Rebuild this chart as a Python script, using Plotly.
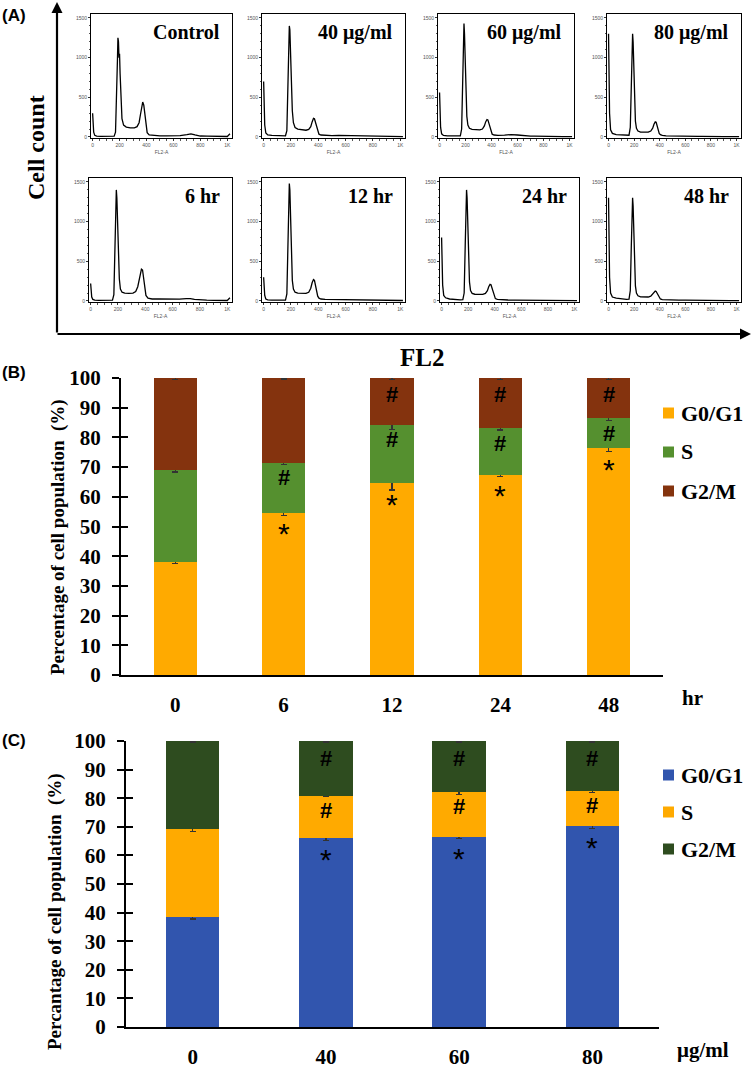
import plotly.graph_objects as go

W, H = 756, 1082

def px(x):
    return x / W

def py(y):
    return 1 - y / H

# ---------------- Panel A data (flow cytometry histograms) ----------------
fl2_x = [0, 8, 16, 30, 60, 100, 140, 160, 170, 178, 184, 188, 192, 196, 200, 204, 210, 218,
         230, 250, 280, 310, 330, 345, 355, 365, 372, 380, 388, 396, 405, 420, 450, 500,
         550, 600, 650, 700, 730, 760, 800, 850, 900, 950, 1000, 1020]

count_control = [300, 60, 20, 10, 8, 8, 8, 10, 60, 450, 950, 1250, 1200, 1000, 1050, 800, 420, 230,
                 150, 125, 115, 115, 130, 180, 280, 400, 440, 400, 260, 120, 55, 25, 18, 15,
                 15, 15, 18, 30, 40, 25, 12, 10, 8, 6, 6, 40]
count_40 = [700, 150, 50, 25, 20, 18, 15, 15, 80, 600, 1200, 1400, 1350, 1100, 1000, 650, 330, 180,
            120, 100, 90, 85, 95, 130, 190, 235, 230, 180, 110, 60, 35, 25, 20, 18,
            20, 18, 15, 12, 12, 10, 10, 8, 8, 6, 5, 5]
count_60 = [560, 120, 40, 20, 15, 12, 12, 15, 100, 700, 1300, 1430, 1300, 1100, 800, 500, 260, 150,
            110, 95, 90, 90, 100, 140, 190, 220, 215, 170, 100, 55, 35, 25, 20, 22,
            30, 25, 15, 10, 10, 8, 8, 6, 5, 5, 5, 5]
count_80 = [1300, 300, 90, 45, 30, 25, 20, 22, 120, 650, 1150, 1300, 1200, 1000, 700, 420, 200, 110,
            75, 60, 58, 60, 75, 110, 160, 190, 185, 140, 80, 45, 30, 20, 15, 12,
            10, 10, 10, 8, 8, 6, 6, 5, 5, 5, 5, 5]
count_6h = [220, 50, 20, 10, 8, 8, 8, 10, 80, 650, 1200, 1400, 1300, 1100, 850, 550, 280, 150,
            110, 100, 95, 100, 120, 180, 280, 370, 400, 390, 290, 150, 70, 35, 25, 25,
            25, 20, 22, 30, 30, 20, 12, 10, 8, 6, 6, 40]
count_12h = [300, 70, 25, 15, 10, 10, 10, 12, 90, 750, 1350, 1480, 1400, 1150, 850, 500, 260, 150,
             110, 100, 95, 95, 110, 160, 230, 270, 260, 200, 120, 60, 35, 25, 20, 18,
             18, 18, 18, 18, 15, 12, 10, 8, 8, 6, 6, 6]
count_24h = [800, 200, 70, 40, 25, 18, 15, 18, 100, 700, 1250, 1400, 1300, 1100, 800, 480, 240, 130,
             95, 85, 80, 82, 95, 130, 180, 210, 205, 160, 95, 50, 30, 20, 15, 12,
             10, 10, 8, 8, 8, 6, 6, 5, 5, 5, 5, 5]
count_48h = [1300, 300, 100, 50, 35, 25, 20, 22, 130, 700, 1150, 1300, 1200, 1000, 700, 400, 190, 100,
             65, 52, 48, 50, 60, 85, 110, 125, 120, 95, 60, 35, 25, 18, 14, 12,
             10, 10, 8, 8, 8, 6, 6, 5, 5, 5, 5, 5]

hist_labels = ["Control", "40 μg/ml", "60 μg/ml", "80 μg/ml", "6 hr", "12 hr", "24 hr", "48 hr"]
hist_counts = [count_control, count_40, count_60, count_80, count_6h, count_12h, count_24h, count_48h]
hist_xticks = [0, 200, 400, 600, 800, 1000]
hist_xticktext = ["0", "200", "400", "600", "800", "1K"]
hist_yticks = [0, 500, 1000, 1500]

# ---------------- Panel B data (time course) ----------------
b_cats = ["0", "6", "12", "24", "48"]
b_g0 = [38.0, 54.6, 64.5, 67.5, 76.3]
b_g0_err = [0.5, 0.9, 2.2, 0.7, 1.0]
b_s = [31.0, 16.8, 19.7, 15.5, 10.1]
b_s_err = [0.6, 0.5, 1.5, 0.5, 0.6]
b_g2m = [31.0, 28.6, 15.8, 17.0, 13.6]
b_g2m_err = [0.5, 0.3, 0.5, 0.5, 0.5]
b_star = [False, True, True, True, True]
b_hash_s = [False, True, True, True, True]
b_hash_g2m = [False, False, True, True, True]

# ---------------- Panel C data (dose) ----------------
c_cats = ["0", "40", "60", "80"]
c_g0 = [38.3, 66.0, 66.5, 70.4]
c_g0_err = [0.5, 0.7, 0.6, 0.9]
c_s = [30.8, 14.8, 15.8, 12.2]
c_s_err = [0.7, 0.3, 1.0, 0.6]
c_g2m = [30.9, 19.2, 17.7, 17.4]
c_g2m_err = [0.3, 0.3, 0.3, 0.3]
c_star = [False, True, True, True]
c_hash_s = [False, True, True, True]
c_hash_g2m = [False, True, True, True]

y_ticks_pct = [0, 10, 20, 30, 40, 50, 60, 70, 80, 90, 100]

phase_names = ["G0/G1", "S", "G2/M"]
b_colors = ["#FFAA00", "#55902F", "#84330E"]
c_colors = ["#3155AE", "#FFAA00", "#2E4C1F"]

SERIF = "Liberation Serif"
SANS = "Liberation Sans"

fig = go.Figure()
layout = dict(
    width=W, height=H,
    margin=dict(l=0, r=0, t=0, b=0, autoexpand=False),
    paper_bgcolor="white", plot_bgcolor="white",
    showlegend=False,
    barmode="stack",
)

# histogram boxes (left, right, top, bottom) in pixels
hist_boxes = [(91, 232, 14, 138), (262, 405, 14, 138), (438, 574, 14, 138), (607, 741, 14, 138),
              (89, 232, 178, 302), (262, 405, 178, 302), (440, 579, 178, 302), (607, 741, 178, 302)]

annotations = []
shapes = []


def text_note(text, x, y, size, family=SERIF, xanchor="center", angle=0):
    annotations.append(dict(text=text, x=px(x), y=py(y), xref="paper", yref="paper",
                            xanchor=xanchor, yanchor="middle", textangle=angle, showarrow=False,
                            font=dict(family=family, size=size, color="black")))


tickfont_small = dict(family=SANS, size=5, color="#555")
for i, (counts, lab, box) in enumerate(zip(hist_counts, hist_labels, hist_boxes), start=1):
    l, r, t, b = box
    xs = "" if i == 1 else str(i)
    fig.add_trace(go.Scatter(x=fl2_x, y=counts, mode="lines",
                             line=dict(color="black", width=1.3),
                             xaxis="x" + xs, yaxis="y" + xs, hoverinfo="skip"))
    layout["xaxis" + xs] = dict(
        domain=[px(l), px(r)], anchor="y" + xs, range=[-12, 1035], automargin=False,
        tickvals=hist_xticks, ticktext=hist_xticktext, tickfont=tickfont_small,
        ticks="outside", ticklen=2, tickwidth=0.8, tickcolor="#333",
        minor=dict(dtick=50, ticks="outside", ticklen=1.5, tickcolor="#555"),
        showline=True, linecolor="black", linewidth=1, mirror=True,
        showgrid=False, zeroline=False,
        title=dict(text="FL2-A", font=dict(family=SANS, size=5, color="#555"), standoff=3),
    )
    layout["yaxis" + xs] = dict(
        domain=[py(b), py(t)], anchor="x" + xs, range=[-13, 1550], automargin=False,
        tickvals=hist_yticks, tickfont=tickfont_small,
        ticks="outside", ticklen=2, tickwidth=0.8, tickcolor="#333",
        minor=dict(dtick=100, ticks="outside", ticklen=1.5, tickcolor="#555"),
        showline=True, linecolor="black", linewidth=1, mirror=True,
        showgrid=False, zeroline=False,
    )
    text_note("<b>%s</b>" % lab, r - 10, t + 18, 20, xanchor="right")

# Outer arrows of panel A
annotations.append(dict(x=px(57), y=py(2), xref="paper", yref="paper", ax=0, ay=332,
                        text="", showarrow=True, arrowhead=2, arrowsize=1, arrowwidth=2.2,
                        arrowcolor="black", standoff=0, startstandoff=0))
annotations.append(dict(x=px(751), y=py(334), xref="paper", yref="paper", ax=-695, ay=0,
                        text="", showarrow=True, arrowhead=2, arrowsize=1, arrowwidth=2.2,
                        arrowcolor="black", standoff=0, startstandoff=0))
text_note("<b>Cell count</b>", 36, 148, 24, angle=-90)
text_note("<b>FL2</b>", 422, 358, 25)
for lab, yy in [("(A)", 16), ("(B)", 372), ("(C)", 740)]:
    text_note("<b>%s</b>" % lab, 0, yy, 17, family=SANS, xanchor="left")


def bar_panel(cats, parts, errs, colors, xa, ya, stars, hash_s, hash_g2m,
              star_off, hs_off, hg_off):
    for name, vals, er, col in zip(phase_names, parts, errs, colors):
        fig.add_trace(go.Bar(x=cats, y=vals, name=name, marker=dict(color=col, line=dict(width=0)),
                             width=0.4, xaxis=xa, yaxis=ya,
                             error_y=dict(type="data", array=er, color="#333", thickness=1.3, width=3)))
    g0, s, g2 = parts
    for idx, (a, b_, st, hs, hg) in enumerate(zip(g0, s, stars, hash_s, hash_g2m)):
        if st:
            annotations.append(dict(text="*", x=idx, y=a + star_off, xref=xa, yref=ya, showarrow=False,
                                    yanchor="middle", yshift=-3,
                                    font=dict(family=SANS, size=30, color="black")))
        if hs:
            annotations.append(dict(text="<b>#</b>", x=idx, y=a + b_ + hs_off, xref=xa, yref=ya,
                                    showarrow=False, yanchor="middle",
                                    font=dict(family=SANS, size=22, color="black")))
        if hg:
            annotations.append(dict(text="<b>#</b>", x=idx, y=100 + hg_off, xref=xa, yref=ya,
                                    showarrow=False, yanchor="middle",
                                    font=dict(family=SANS, size=22, color="black")))


bar_panel(b_cats, [b_g0, b_s, b_g2m], [b_g0_err, b_s_err, b_g2m_err], b_colors, "x9", "y9",
          b_star, b_hash_s, b_hash_g2m, -6.0, -5.0, -5.5)
bar_panel(c_cats, [c_g0, c_s, c_g2m], [c_g0_err, c_s_err, c_g2m_err], c_colors, "x10", "y10",
          c_star, c_hash_s, c_hash_g2m, -6.5, -5.2, -6.0)

tickfont_big = dict(family=SERIF, size=21, color="black")


def bar_axes(n, n_over, l, r, top, bottom, cats):
    layout["xaxis" + n] = dict(domain=[px(l), px(r)], anchor="y" + n, automargin=False,
                               range=[-0.5, len(cats) - 0.5], type="category",
                               tickvals=cats, ticktext=["<b>%s</b>" % c for c in cats],
                               showline=True, linecolor="black", linewidth=2, ticks="",
                               tickfont=tickfont_big, ticklabelstandoff=10,
                               showgrid=False, zeroline=False)
    layout["yaxis" + n] = dict(domain=[py(bottom), py(top)], anchor="x" + n, range=[0, 100],
                               automargin=False,
                               tickvals=y_ticks_pct, ticktext=["<b>%d</b>" % v for v in y_ticks_pct],
                               tickfont=tickfont_big, ticklabelstandoff=7,
                               ticks="outside", ticklen=7, tickwidth=2, tickcolor="black",
                               showline=True, linecolor="black", linewidth=2,
                               showgrid=False, zeroline=False)
    layout["yaxis" + n_over] = dict(domain=[py(bottom), py(top)], anchor="x" + n, range=[0, 100],
                                    automargin=False, overlaying="y" + n, tickvals=y_ticks_pct,
                                    showticklabels=False, ticks="inside", ticklen=7, tickwidth=2,
                                    tickcolor="black", showline=False, showgrid=False, zeroline=False)
    fig.add_trace(go.Scatter(x=[], y=[], xaxis="x" + n, yaxis="y" + n_over, hoverinfo="skip"))


bar_axes("9", "11", 121, 663, 378, 675, b_cats)
bar_axes("10", "12", 126, 659, 741, 1027, c_cats)

# Axis titles and unit labels
text_note("<b>Percentage of cell population  (%)</b>", 58, 537, 19, angle=-90)
text_note("<b>Percantage of cell population  (%)</b>", 55, 912, 19, angle=-90)
text_note("<b>hr</b>", 680, 698, 21, xanchor="left")
text_note("<b>μg/ml</b>", 675, 1050, 21, xanchor="left")

# Manual legends
def legend(colors, ys):
    for name, col, yy in zip(phase_names, colors, ys):
        shapes.append(dict(type="rect", xref="paper", yref="paper",
                           x0=px(663), x1=px(674), y0=py(yy + 5.5), y1=py(yy - 5.5),
                           fillcolor=col, line=dict(width=0)))
        text_note("<b>%s</b>" % name, 679, yy, 22, xanchor="left")


legend(b_colors, [413, 452, 491])
legend(c_colors, [775, 812, 849])

layout["annotations"] = annotations
layout["shapes"] = shapes
fig.update_layout(**layout)
fig.write_html("out.html", config={"displayModeBar": False},
               post_script="document.body.style.margin='0px';document.body.style.padding='0px';")
